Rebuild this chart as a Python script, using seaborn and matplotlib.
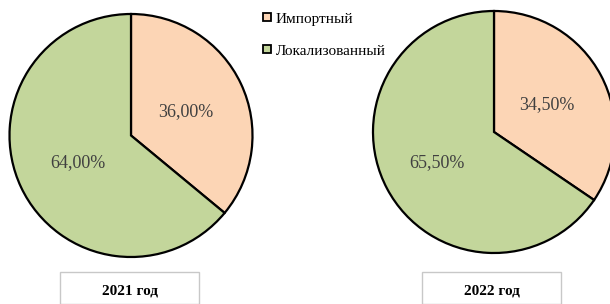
import matplotlib
matplotlib.use("Agg")
import matplotlib.pyplot as plt
import seaborn as sns
from matplotlib.patches import Rectangle
from matplotlib.lines import Line2D

sns.set_theme(style="white")
plt.rcParams['font.family'] = ['Liberation Serif', 'DejaVu Serif']

categories = ["Импортный", "Локализованный"]
years = ["2021 год", "2022 год"]
values_2021 = [36.00, 64.00]
values_2022 = [34.50, 65.50]
colors = ["#FCD5B5", "#C3D69B"]
text_color = "#404040"

W, H = 610, 304
fig = plt.figure(figsize=(W / 100, H / 100), dpi=100)

def add_pie(cx, cy, r, vals, label_pos, year, box):
    ax = fig.add_axes([(cx - r) / W, (H - cy - r) / H, 2 * r / W, 2 * r / H])
    wedges, _ = ax.pie(vals, colors=colors, startangle=90, counterclock=False,
                       radius=1, wedgeprops=dict(edgecolor="black", linewidth=1.6))
    for w in wedges:
        w.set_clip_on(False)
    ax.set_xlim(-1, 1)
    ax.set_ylim(-1, 1)
    ax.set_aspect("equal")
    ax.axis("off")
    for v, (tx, ty) in zip(vals, label_pos):
        ax.text(tx, ty, f"{v:.2f}%".replace(".", ","), ha="center", va="center",
                fontsize=13, color=text_color)
    bx0, bx1, by0 = box
    fig.patches.append(Rectangle((bx0 / W, 0), (bx1 - bx0) / W, (H - by0) / H,
                                 transform=fig.transFigure, facecolor="white",
                                 edgecolor="#c8c8c8", linewidth=1.0))
    fig.text((bx0 + bx1) / 2 / W, (H - 291) / H, year, ha="center", va="center",
             fontsize=11, fontweight="bold", color="black")

add_pie(131, 135.5, 121.5, values_2021, [(0.45, 0.20), (-0.44, -0.22)], years[0], (60, 199, 272))
add_pie(494, 132, 121, values_2022, [(0.44, 0.23), (-0.47, -0.25)], years[1], (422, 561, 272))

handles = [Line2D([], [], marker="s", linestyle="none", markersize=6,
                  markerfacecolor=c, markeredgecolor="black", markeredgewidth=1.3)
           for c in colors]
fig.legend(handles, categories, loc="upper left", bbox_to_anchor=(256 / W, 1 - 6 / H),
           frameon=False, fontsize=11, handlelength=0.6, handletextpad=0.3,
           labelspacing=1.2, borderaxespad=0, labelcolor="black")

fig.savefig("out.png", dpi=100)
